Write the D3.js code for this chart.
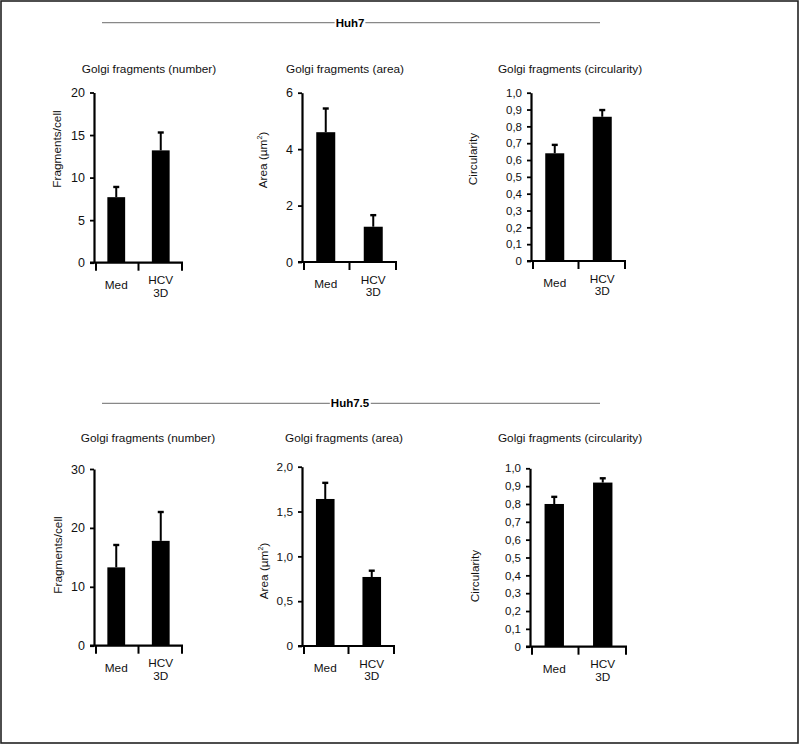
<!DOCTYPE html>
<html><head><meta charset="utf-8">
<script src="https://cdn.jsdelivr.net/npm/d3@7/dist/d3.min.js"></script>
<style>
body{margin:0;background:#fff;}
svg{display:block;font-family:Arial,"Liberation Sans",sans-serif;}
</style></head>
<body>
<svg id="chart" width="800" height="745"></svg>
<script>
// ---- data ----
const categories = ["Med", "HCV 3D"];
const huh7NumberMean = [7.7, 13.2];
const huh7NumberErr  = [1.2, 2.1];
const huh7AreaMean   = [4.6, 1.25];
const huh7AreaErr    = [0.84, 0.41];
const huh7CircMean   = [0.64, 0.857];
const huh7CircErr    = [0.05, 0.04];
const huh75NumberMean = [13.3, 17.8];
const huh75NumberErr  = [3.8, 4.9];
const huh75AreaMean   = [1.64, 0.77];
const huh75AreaErr    = [0.18, 0.07];
const huh75CircMean   = [0.80, 0.92];
const huh75CircErr    = [0.04, 0.024];
const numberTicks7  = [0, 5, 10, 15, 20];
const areaTicks7    = [0, 2, 4, 6];
const circTicks     = [0, 0.1, 0.2, 0.3, 0.4, 0.5, 0.6, 0.7, 0.8, 0.9, 1.0];
const numberTicks75 = [0, 10, 20, 30];
const areaTicks75   = [0, 0.5, 1.0, 1.5, 2.0];
const panelTitles = ["Golgi fragments (number)", "Golgi fragments (area)", "Golgi fragments (circularity)"];
const groupTitles = ["Huh7", "Huh7.5"];

const svg = d3.select("#chart");

// outer frame
svg.append("rect").attr("x", 1).attr("y", 1).attr("width", 797).attr("height", 742)
  .attr("fill", "none").attr("stroke", "#222").attr("stroke-width", 1.6);

function fmtInt(d){ return String(d); }
function fmtComma(d){ return d === 0 ? "0" : d.toFixed(1).replace(".", ","); }

function header(text, y){
  svg.append("line").attr("x1", 102).attr("x2", 600).attr("y1", y).attr("y2", y)
    .attr("stroke", "#888").attr("stroke-width", 1.2);
  const t = svg.append("text").attr("x", 350).attr("y", y + 4).attr("text-anchor", "middle")
    .attr("font-size", 11.5).attr("font-weight", "bold").attr("fill", "#000").text(text);
  const bb = t.node().getBBox();
  svg.append("rect").attr("x", bb.x - 1).attr("y", y - 2).attr("width", bb.width + 2).attr("height", 4).attr("fill", "#fff");
  t.raise();
}

function panel(o){
  const g = svg.append("g");
  const y = d3.scaleLinear().domain(o.domain).range([o.yZero, o.yTop]);
  const x = d3.scaleBand().domain(categories).range([o.x0, o.xEnd]).padding(0);

  // title
  g.append("text").attr("x", o.titleX).attr("y", o.titleY).attr("text-anchor", "middle")
    .attr("font-size", 11.8).attr("fill", "#111").text(o.title);

  // y axis
  const ya = g.append("g").attr("transform", `translate(${o.x0},0)`)
    .call(d3.axisLeft(y).tickValues(o.ticks).tickFormat(o.fmt).tickSize(4).tickSizeOuter(0).tickPadding(5));
  ya.select(".domain").attr("stroke", "#000").attr("stroke-width", 2.2);
  ya.selectAll(".tick line").attr("stroke", "#000").attr("stroke-width", 1.8);
  ya.selectAll(".tick text").attr("font-size", o.tickFont).attr("fill", "#111").attr("font-family", "Arial, 'Liberation Sans', sans-serif");

  // y label
  const lab = g.append("text").attr("transform", `translate(${o.labX + 4},${o.labY}) rotate(-90)`)
    .attr("text-anchor", "middle").attr("font-size", 11.8).attr("fill", "#111");
  if (o.sup){
    lab.append("tspan").text("Area (\u00B5m");
    lab.append("tspan").attr("font-size", 7).attr("dy", -5).text("2");
    lab.append("tspan").attr("dy", 5).text(")");
  } else lab.text(o.ylabel);

  // bars
  g.selectAll("rect.bar").data(categories).enter().append("rect")
    .attr("x", d => x(d) + x.bandwidth() * 0.3)
    .attr("width", x.bandwidth() * 0.4)
    .attr("y", (d, i) => y(o.mean[i]))
    .attr("height", (d, i) => y(0) - y(o.mean[i]))
    .attr("fill", "#000");

  // error bars (upper)
  categories.forEach((c, i) => {
    const cx = x(c) + x.bandwidth() / 2;
    g.append("line").attr("x1", cx).attr("x2", cx)
      .attr("y1", y(o.mean[i])).attr("y2", y(o.mean[i] + o.err[i]))
      .attr("stroke", "#000").attr("stroke-width", 2);
    g.append("line").attr("x1", cx - 3).attr("x2", cx + 3)
      .attr("y1", y(o.mean[i] + o.err[i])).attr("y2", y(o.mean[i] + o.err[i]))
      .attr("stroke", "#000").attr("stroke-width", 2.4);
  });

  // x axis
  g.append("line").attr("x1", o.x0 - 4).attr("x2", o.xEnd).attr("y1", o.yZero).attr("y2", o.yZero)
    .attr("stroke", "#000").attr("stroke-width", 2.2);
  const bounds = [o.x0 + 2, ...categories.map(c => x(c) + x.bandwidth())];
  bounds[bounds.length - 1] = o.xEnd - 1;
  bounds.forEach(bx => {
    g.append("line").attr("x1", bx).attr("x2", bx).attr("y1", o.yZero).attr("y2", o.yZero + 8)
      .attr("stroke", "#000").attr("stroke-width", 2);
  });
  // x labels
  categories.forEach(c => {
    const cx = x(c) + x.bandwidth() / 2;
    const parts = c.split(" ");
    if (parts.length === 1){
      g.append("text").attr("x", cx).attr("y", o.yZero + 26).attr("text-anchor", "middle")
        .attr("font-size", 11.8).attr("fill", "#111").text(c);
    } else {
      g.append("text").attr("x", cx).attr("y", o.yZero + 21.5).attr("text-anchor", "middle")
        .attr("font-size", 11.8).attr("fill", "#111").text(parts[0]);
      g.append("text").attr("x", cx).attr("y", o.yZero + 34).attr("text-anchor", "middle")
        .attr("font-size", 11.8).attr("fill", "#111").text(parts[1]);
    }
  });
}

header(groupTitles[0], 22.7);
header(groupTitles[1], 403.3);

// top row
panel({title: panelTitles[0], titleX: 149, titleY: 72.5, domain: [0, 20], ticks: numberTicks7, fmt: fmtInt, tickFont: 12.5,
  x0: 94, xEnd: 183, yTop: 92.5, yZero: 262.7, mean: huh7NumberMean, err: huh7NumberErr,
  ylabel: "Fragments/cell", labX: 57, labY: 149});
panel({title: panelTitles[1], titleX: 345, titleY: 72.5, domain: [0, 6], ticks: areaTicks7, fmt: fmtInt, tickFont: 12.5,
  x0: 302, xEnd: 397, yTop: 92.7, yZero: 262, mean: huh7AreaMean, err: huh7AreaErr,
  sup: true, labX: 263, labY: 160});
panel({title: panelTitles[2], titleX: 570, titleY: 72.5, domain: [0, 1], ticks: circTicks, fmt: fmtComma, tickFont: 11.5,
  x0: 531, xEnd: 626, yTop: 92.7, yZero: 261, mean: huh7CircMean, err: huh7CircErr,
  ylabel: "Circularity", labX: 473, labY: 159});

// bottom row
panel({title: panelTitles[0], titleX: 148, titleY: 442, domain: [0, 30], ticks: numberTicks75, fmt: fmtInt, tickFont: 12.5,
  x0: 94, xEnd: 183, yTop: 469, yZero: 645.7, mean: huh75NumberMean, err: huh75NumberErr,
  ylabel: "Fragments/cell", labX: 58, labY: 555});
panel({title: panelTitles[1], titleX: 344, titleY: 442, domain: [0, 2], ticks: areaTicks75, fmt: fmtComma, tickFont: 11.8,
  x0: 302, xEnd: 395, yTop: 466.7, yZero: 646, mean: huh75AreaMean, err: huh75AreaErr,
  sup: true, labX: 264, labY: 571});
panel({title: panelTitles[2], titleX: 570, titleY: 442, domain: [0, 1], ticks: circTicks, fmt: fmtComma, tickFont: 11.5,
  x0: 530, xEnd: 627, yTop: 468.3, yZero: 646.7, mean: huh75CircMean, err: huh75CircErr,
  ylabel: "Circularity", labX: 475, labY: 576});
</script>
</body></html>
